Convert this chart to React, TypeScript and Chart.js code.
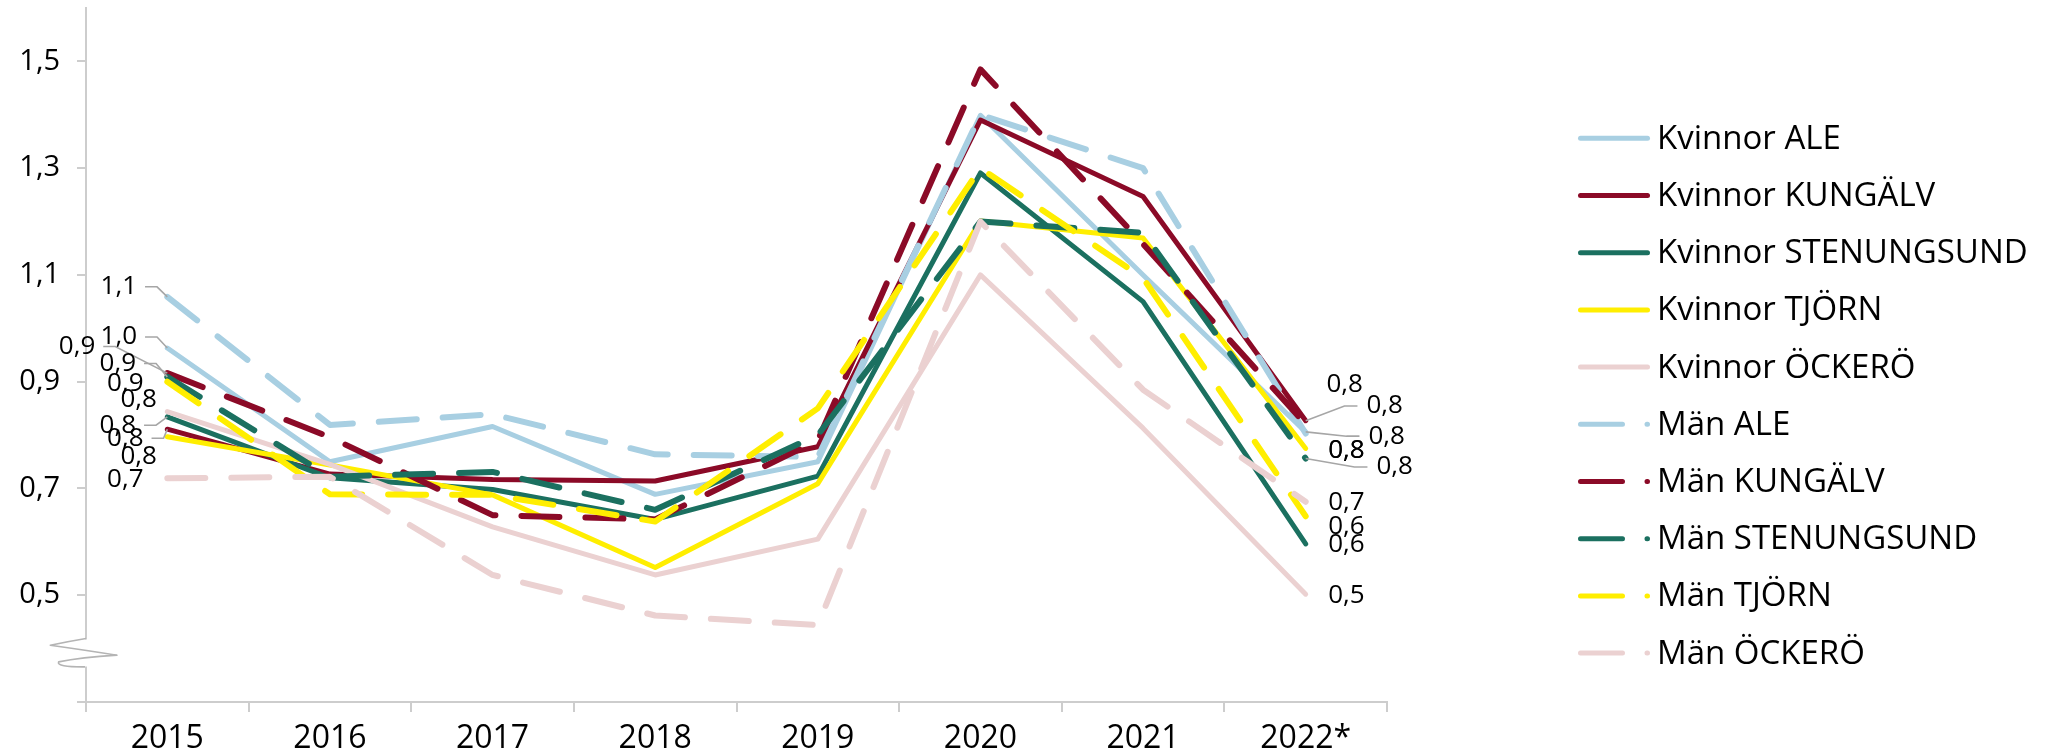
import React, { useEffect, useRef } from 'react';
import { Chart, registerables } from 'chart.js';

Chart.register(...registerables);

// ---------- data ----------
const categories = ['2015', '2016', '2017', '2018', '2019', '2020', '2021', '2022*'];

const kvinnorAle = [0.963, 0.75, 0.816, 0.689, 0.75, 1.399, 1.1, 0.806];
const kvinnorKungalv = [0.811, 0.727, 0.717, 0.714, 0.778, 1.39, 1.247, 0.827];
const kvinnorStenungsund = [0.834, 0.72, 0.698, 0.642, 0.723, 1.291, 1.05, 0.596];
const kvinnorTjorn = [0.797, 0.744, 0.688, 0.552, 0.709, 1.201, 1.169, 0.775];
const kvinnorOckero = [0.844, 0.745, 0.628, 0.538, 0.605, 1.1, 0.813, 0.502];
const manAle = [1.059, 0.819, 0.839, 0.764, 0.759, 1.4, 1.3, 0.803];
const manKungalv = [0.916, 0.796, 0.65, 0.642, 0.79, 1.485, 1.158, 0.82];
const manStenungsund = [0.909, 0.722, 0.731, 0.66, 0.8, 1.2, 1.179, 0.756];
const manTjorn = [0.9, 0.689, 0.688, 0.638, 0.85, 1.3, 1.094, 0.648];
const manOckero = [0.719, 0.722, 0.538, 0.462, 0.444, 1.2, 0.885, 0.675];

const seriesNames = [
  'Kvinnor ALE',
  'Kvinnor KUNGÄLV',
  'Kvinnor STENUNGSUND',
  'Kvinnor TJÖRN',
  'Kvinnor ÖCKERÖ',
  'Män ALE',
  'Män KUNGÄLV',
  'Män STENUNGSUND',
  'Män TJÖRN',
  'Män ÖCKERÖ',
];
const seriesValues = [
  kvinnorAle, kvinnorKungalv, kvinnorStenungsund, kvinnorTjorn, kvinnorOckero,
  manAle, manKungalv, manStenungsund, manTjorn, manOckero,
];

const yTickValues = [0.3, 0.5, 0.7, 0.9, 1.1, 1.3, 1.5];
const yMin = 0.3;
const yMax = 1.6;

// ---------- styles ----------
const FONT = '"Open Sans", sans-serif';
const AXIS_COLOR = '#cdcdcd';
const LEADER_COLOR = '#a6a6a6';
const C_ALE = '#a8cfe2';
const C_KUNG = '#8b0a27';
const C_STEN = '#1b7060';
const C_TJORN = '#ffee00';
const C_OCK = '#ebd1d1';
const seriesColors = [C_ALE, C_KUNG, C_STEN, C_TJORN, C_OCK, C_ALE, C_KUNG, C_STEN, C_TJORN, C_OCK];
const seriesDashed = [false, false, false, false, false, true, true, true, true, true];

// label placement (offset of label centre from the point, and whether a leader line is drawn)
const startLabelLayout = [
  { dx: -48.5, dy: -11, leader: true },
  { dx: -42, dy: 9, leader: true },
  { dx: -49.5, dy: 8.3, leader: true },
  { dx: -28.7, dy: 20, leader: false },
  { dx: -28.7, dy: -11.7, leader: false },
  { dx: -48.5, dy: -10, leader: true },
  { dx: -90.3, dy: -26.6, leader: true },
  { dx: -49.5, dy: -13.4, leader: true },
  { dx: -42, dy: 1.6, leader: false },
  { dx: -42, dy: 1.7, leader: false },
];
const endLabelLayout = [
  { dx: 81, dy: 4.3, leader: true },
  { dx: 79, dy: -14.7, leader: true },
  { dx: 40.7, dy: 1, leader: false },
  { dx: 40.7, dy: 2.4, leader: false },
  { dx: 40.7, dy: 1, leader: false },
  { dx: 40.7, dy: 17.4, leader: false },
  { dx: 39, dy: -39.4, leader: false },
  { dx: 89, dy: 8.4, leader: true },
  { dx: 40.7, dy: 10, leader: false },
  { dx: 40.7, dy: 1, leader: false },
];

const fmt = (v: number) => v.toFixed(1).replace('.', ',');

const endLabelsPlugin = {
  id: 'endLabels',
  afterDatasetsDraw(chart: any) {
    const ctx = chart.ctx as CanvasRenderingContext2D;
    ctx.save();
    ctx.font = `26px ${FONT}`;
    ctx.textBaseline = 'middle';
    ctx.textAlign = 'center';
    chart.data.datasets.forEach((ds: any, i: number) => {
      const meta = chart.getDatasetMeta(i);
      const n = meta.data.length;
      const items: [number, any, string][] = [
        [0, startLabelLayout[i], 'left'],
        [n - 1, endLabelLayout[i], 'right'],
      ];
      items.forEach(([idx, lay, side]) => {
        const pt = meta.data[idx];
        const text = fmt(ds.data[idx]);
        const cx = pt.x + lay.dx;
        const cy = pt.y + lay.dy;
        const w = ctx.measureText(text).width;
        if (lay.leader) {
          ctx.beginPath();
          ctx.strokeStyle = LEADER_COLOR;
          ctx.lineWidth = 1.6;
          ctx.setLineDash([]);
          if (side === 'left') {
            const r = cx + w / 2;
            ctx.moveTo(r + 8, cy);
            ctx.lineTo(r + 20, cy);
            ctx.lineTo(pt.x, pt.y);
          } else {
            const l = cx - w / 2;
            ctx.moveTo(pt.x, pt.y);
            ctx.lineTo(l - 22, cy);
            ctx.lineTo(l - 9, cy);
          }
          ctx.stroke();
        }
        ctx.fillStyle = '#000';
        ctx.fillText(text, cx, cy);
      });
    });
    ctx.restore();
  },
};

const axisBreakPlugin = {
  id: 'axisBreak',
  afterDraw(chart: any) {
    const ctx = chart.ctx as CanvasRenderingContext2D;
    const ys = chart.scales.y;
    const x0 = chart.chartArea.left;
    const top = ys.getPixelForValue(0.419);
    ctx.save();
    ctx.fillStyle = '#fff';
    ctx.fillRect(x0 - 2, top + 1, 4, 27);
    ctx.strokeStyle = '#b4b4b4';
    ctx.lineWidth = 1.6;
    ctx.lineJoin = 'round';
    ctx.beginPath();
    ctx.moveTo(x0, top);
    ctx.quadraticCurveTo(x0 - 18, top + 3, x0 - 35.7, top + 6.7);
    ctx.quadraticCurveTo(x0 + 2, top + 12, x0 + 31, top + 16.7);
    ctx.quadraticCurveTo(x0 - 5, top + 19, x0 - 27.4, top + 23.4);
    ctx.quadraticCurveTo(x0 - 30, top + 28.6, x0 - 1, top + 28.4);
    ctx.stroke();
    ctx.restore();
  },
};

const legendPlugin = {
  id: 'customLegend',
  afterDraw(chart: any) {
    const ctx = chart.ctx as CanvasRenderingContext2D;
    const xLine0 = 1578;
    const xLine1 = 1650;
    const xText = 1657;
    const yFirst = 138.3;
    const step = 57.2;
    ctx.save();
    ctx.font = `33px ${FONT}`;
    ctx.textBaseline = 'middle';
    ctx.textAlign = 'left';
    chart.data.datasets.forEach((ds: any, i: number) => {
      const y = yFirst + i * step;
      ctx.beginPath();
      ctx.strokeStyle = ds.borderColor;
      ctx.lineWidth = 5;
      ctx.lineCap = 'round';
      ctx.setLineDash(seriesDashed[i] ? [42, 24.5] : []);
      ctx.moveTo(xLine0 + 2.5, y);
      ctx.lineTo(xLine1 - 2.5, y);
      ctx.stroke();
      ctx.setLineDash([]);
      ctx.fillStyle = '#000';
      ctx.fillText(ds.label, xText, y + 1);
    });
    ctx.restore();
  },
};

export default function App() {
  const canvasRef = useRef<HTMLCanvasElement | null>(null);

  useEffect(() => {
    if (!canvasRef.current) return;
    const datasets = seriesNames.map((name, i) => ({
      label: name,
      data: seriesValues[i],
      borderColor: seriesColors[i],
      backgroundColor: seriesColors[i],
      borderWidth: seriesDashed[i] ? 6 : 5,
      borderDash: seriesDashed[i] ? [38, 26] : [],
      borderCapStyle: 'round' as const,
      borderJoinStyle: 'round' as const,
      pointRadius: 0,
      pointHoverRadius: 0,
      tension: 0,
      fill: false,
      order: seriesNames.length - i,
    }));

    const chart = new Chart(canvasRef.current, {
      type: 'line',
      data: { labels: categories, datasets },
      options: {
        responsive: false,
        animation: false,
        layout: { padding: { top: 8, right: 662, bottom: 0, left: 0 } },
        plugins: {
          legend: { display: false },
          tooltip: { enabled: false },
        },
        scales: {
          x: {
            type: 'category',
            offset: true,
            grid: {
              display: true,
              drawOnChartArea: false,
              drawTicks: true,
              tickLength: 10,
              color: AXIS_COLOR,
              lineWidth: 2,
              offset: true,
            },
            border: { display: true, color: AXIS_COLOR, width: 2 },
            ticks: {
              color: '#000',
              font: { family: FONT, size: 32 },
              padding: 8,
              maxRotation: 0,
              autoSkip: false,
            },
            afterFit: (s: any) => {
              s.height = 52;
              s.paddingLeft = 0;
              s.paddingRight = 0;
            },
          },
          y: {
            type: 'linear',
            min: yMin,
            max: yMax,
            afterBuildTicks: (s: any) => {
              s.ticks = yTickValues.map((v) => ({ value: v }));
            },
            grid: {
              display: true,
              drawOnChartArea: false,
              drawTicks: true,
              tickLength: 9,
              color: AXIS_COLOR,
              lineWidth: 2,
            },
            border: { display: true, color: AXIS_COLOR, width: 2 },
            ticks: {
              color: '#000',
              font: { family: FONT, size: 29 },
              padding: 17,
              callback: (v: any) => (Math.abs(Number(v) - yMin) < 1e-6 ? '' : fmt(Number(v))),
            },
            afterFit: (s: any) => {
              s.width = 86;
              s.paddingTop = 0;
              s.paddingBottom = 0;
            },
          },
        },
      },
      plugins: [endLabelsPlugin, axisBreakPlugin, legendPlugin],
    });
    return () => chart.destroy();
  }, []);

  return (
    <div style={{ position: 'absolute', left: 0, top: 0, width: 2049, height: 754, background: '#fff' }}>
      <canvas ref={canvasRef} width={2049} height={754} style={{ display: 'block' }} />
    </div>
  );
}
